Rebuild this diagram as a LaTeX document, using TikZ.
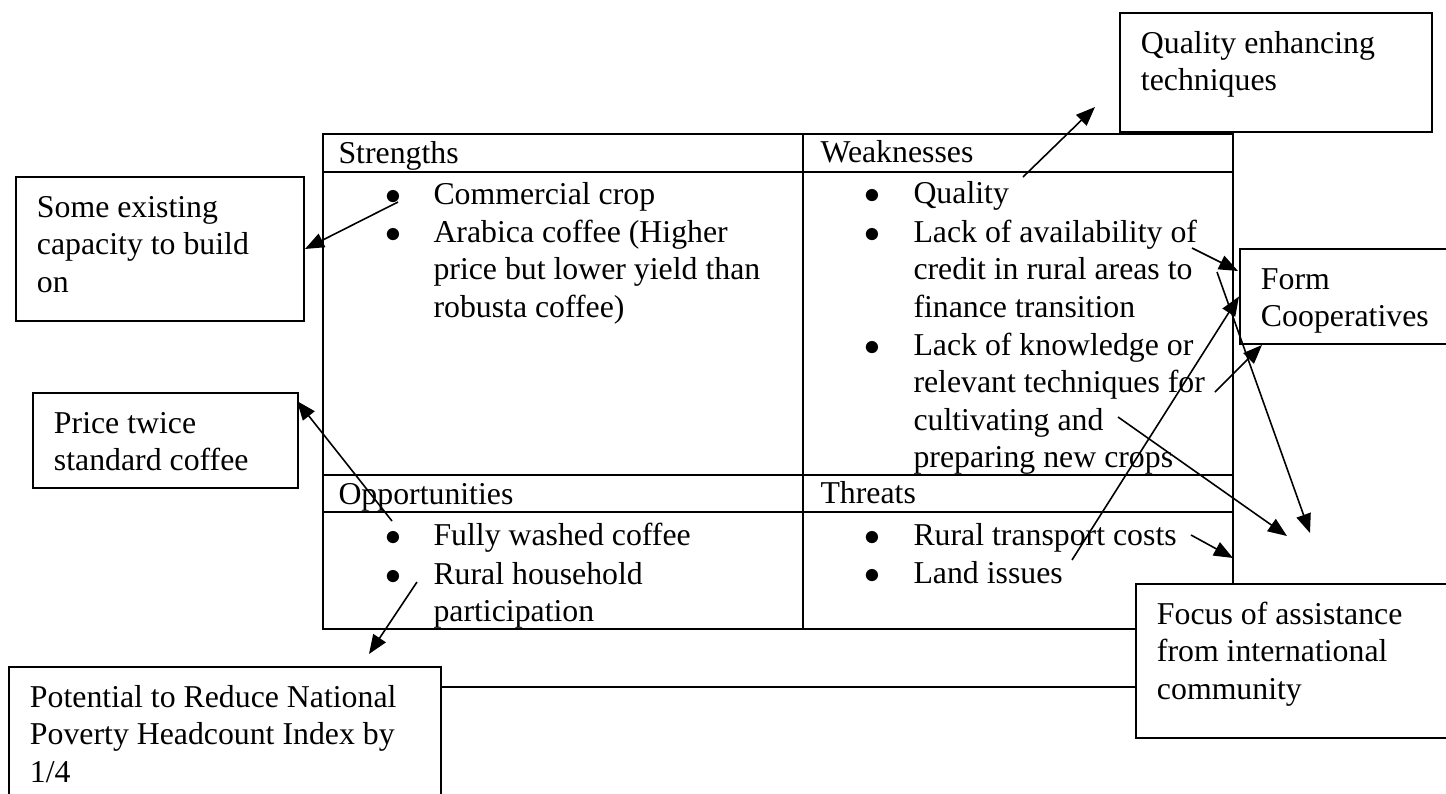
\documentclass[tikz,border=0pt]{standalone}
\usepackage{fontspec}
\setmainfont{Liberation Serif}
\usetikzlibrary{arrows.meta}
\newlength{\pxu}
\setlength{\pxu}{0.3774pt}
% text of a framed box: fixed size, text from the top left
\newcommand{\boxtxt}[3]{\parbox[c][#2\pxu][t]{#1\pxu}{\raggedright\leftskip=21\pxu\rule{0pt}{40\pxu}#3}}
\tikzset {
  % framed boxes round the table
  box/.style = {draw, fill=white, line width=0.75pt, anchor=north west, inner sep=0pt},
  % lines of the SWOT table
  grid/.style = {line width=0.9pt},
  % text of a table cell and its bullet
  cell/.style = {anchor=base west, inner sep=0pt, text width=150pt, align=flush left},
  dot/.style = {anchor=base, inner sep=0pt},
  % arrows from the items to the boxes
  link/.style = {line width=0.6pt, -{Triangle[length=7.2pt,width=5.6pt]}},
}

\begin{document}
\begin{tikzpicture}[x=0.3774pt, y=-0.3774pt, font={\fontsize{12pt}{14.19pt}\selectfont}]
        \useasboundingbox (0,0) rectangle (1446,793);
        \clip (0,0) rectangle (1446,793);

        % the table
        \draw[grid] (323,134) rectangle (1233,629);
        \draw[grid] (803,134) -- (803,629);
        \foreach \y in {172,475,512}
          \draw[grid] (323,\y) -- (1233,\y);

        \node[cell] (sh) at (338,163) {Strengths};
        \node[cell] (wh) at (820,162) {Weaknesses};
        \node[cell] (oh) at (338,504) {Opportunities};
        \node[cell] (th) at (820,503) {Threats};

        \node[dot] at (393,204) {$\bullet$};
        \node[dot] at (393,242) {$\bullet$};
        \node[cell] (s1) at (433,204) {Commercial crop};
        \node[cell] (s2) at (433,242) {Arabica coffee (Higher\\price but lower yield than\\robusta coffee)};

        \node[dot] at (872,203) {$\bullet$};
        \node[dot] at (872,242) {$\bullet$};
        \node[dot] at (872,355) {$\bullet$};
        \node[cell] (w1) at (913,203) {Quality};
        \node[cell] (w2) at (913,242) {Lack of availability of\\credit in rural areas to\\finance transition};
        \node[cell] (w3) at (913,355) {Lack of knowledge or\\relevant techniques for\\cultivating and\\preparing new crops};

        \node[dot] at (393,545) {$\bullet$};
        \node[dot] at (393,584) {$\bullet$};
        \node[cell] (o1) at (433,545) {Fully washed coffee};
        \node[cell] (o2) at (433,584) {Rural household\\participation};

        \node[dot] at (872,545) {$\bullet$};
        \node[dot] at (872,583) {$\bullet$};
        \node[cell] (t1) at (913,545) {Rural transport costs};
        \node[cell] (t2) at (913,583) {Land issues};

        % boxes
        \node[box] (qual) at (1119,12) {\boxtxt{312}{119}{Quality enhancing\\techniques}};
        \node[box] (some) at (15,176) {\boxtxt{288}{144}{Some existing\\capacity to build\\on}};
        \node[box] (price) at (32,392) {\boxtxt{265}{95}{Price twice\\standard coffee}};
        \node[box] (form) at (1239,248) {\boxtxt{250}{95}{Form\\Cooperatives}};
        \node[box] (focus) at (1135,583) {\boxtxt{350}{154}{Focus of assistance\\from international\\community}};
        \node[box] (pot) at (8,666) {\boxtxt{432}{170}{Potential to Reduce National\\Poverty Headcount Index by\\1/4}};

        % ends of the arrows
        \coordinate (cs1) at (398,202);
        \coordinate (co1) at (392,521);
        \coordinate (co2) at (417,582);
        \coordinate (cw1) at (1023,177);
        \coordinate (cw2) at (1192,248);
        \coordinate (cw2b) at (1217,272);
        \coordinate (cw3) at (1215,392);
        \coordinate (cw3b) at (1118,417);
        \coordinate (ct1) at (1191,535);
        \coordinate (ct2) at (1072,560);

        \coordinate (hq) at (1095,107);
        \coordinate (hp) at (297,401);
        \coordinate (hpot) at (369,654);
        \coordinate (hf1) at (1238,271);
        \coordinate (hf3) at (1262,345);
        \coordinate (hx1) at (1287,536);
        \coordinate (hx2) at (1310,533);
        \coordinate (ht1) at (1233,558);
        \coordinate (lk) at (800,687);

        \draw[link] (cs1) -- (some.east);
        \draw[link] (co1) -- (hp);
        \draw[link] (co2) -- (hpot);
        \draw[link] (cw1) -- (hq);
        \draw[link] (cw2) -- (hf1);
        \draw[link] (cw2b) -- (hx2);
        \draw[link] (cw3) -- (hf3);
        \draw[link] (cw3b) -- (hx1);
        \draw[link] (ct1) -- (ht1);
        \draw[link] (ct2) -- (form.west);

        \draw[line width=0.75pt] (pot.east |- lk) -- (focus.west |- lk);
      \end{tikzpicture}
\end{document}
